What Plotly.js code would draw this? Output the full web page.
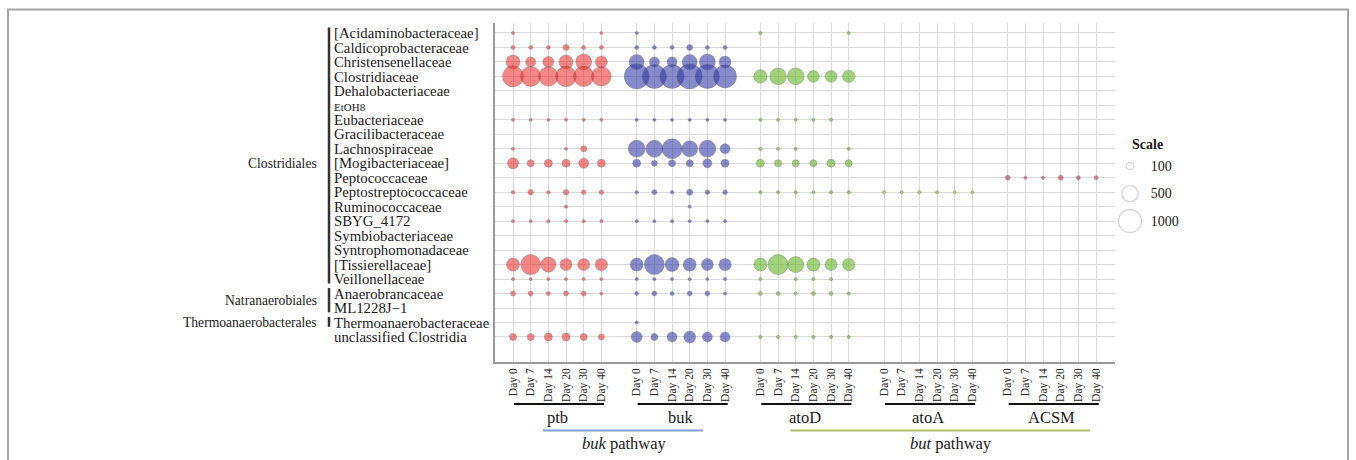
<!DOCTYPE html>
<html><head><meta charset="utf-8">
<script src="https://cdn.plot.ly/plotly-3.0.1.min.js"></script>
<style>html,body{margin:0;padding:0;background:#fff;}#chart{width:1356px;height:460px;}</style>
</head><body><div id="chart"></div>
<script>
// ---------------- data ----------------
const families = ['[Acidaminobacteraceae]','Caldicoprobacteraceae','Christensenellaceae','Clostridiaceae',
  'Dehalobacteriaceae','EtOH8','Eubacteriaceae','Gracilibacteraceae','Lachnospiraceae','[Mogibacteriaceae]',
  'Peptococcaceae','Peptostreptococcaceae','Ruminococcaceae','SBYG_4172','Symbiobacteriaceae',
  'Syntrophomonadaceae','[Tissierellaceae]','Veillonellaceae','Anaerobrancaceae','ML1228J\u22121',
  'Thermoanaerobacteraceae','unclassified Clostridia'];
const days = ['Day 0','Day 7','Day 14','Day 20','Day 30','Day 40'];
const genes = ['ptb','buk','atoD','atoA','ACSM'];
const orderNames = ['Clostridiales','Natranaerobiales','Thermoanaerobacterales'];
const orderFirst = ['[Acidaminobacteraceae]','Anaerobrancaceae','Thermoanaerobacteraceae'];
const orderLast  = ['Veillonellaceae','ML1228J\u22121','Thermoanaerobacteraceae'];
const pathways = ['buk','but'];
const scaleVals = [100, 500, 1000];

// abundance per family (rows) x day (cols)
const ptb = [
  [10,0,0,0,0,10],[30,30,30,68,30,30],[370,190,230,370,480,270],[834,760,720,800,780,720],
  [0,0,0,0,0,0],[0,0,0,0,0,0],[12,12,12,12,12,12],[0,0,0,0,0,0],
  [15,0,0,20,70,0],[229,93,121,121,189,121],[0,0,0,0,0,0],[25,55,25,55,40,40],
  [0,0,0,15,0,0],[8,8,8,8,8,8],[0,0,0,0,0,0],[0,0,0,0,0,0],
  [320,756,425,272,272,290],[10,10,10,10,10,10],[47,47,30,47,47,17],[0,0,0,0,0,0],
  [0,0,0,0,0,0],[93,93,121,121,93,68]];
const buk = [
  [10,0,0,0,0,0],[30,30,30,68,30,30],[425,190,190,425,480,270],[1181,1089,1089,1181,1089,1000],
  [0,0,0,0,0,0],[0,0,0,0,0,0],[12,12,12,12,12,12],[0,0,0,0,0,0],
  [546,546,756,484,546,189],[121,68,93,93,153,121],[0,0,0,0,0,0],[25,47,25,68,40,40],
  [0,0,0,15,0,0],[8,8,8,8,8,8],[0,0,0,0,0,0],[0,0,0,0,0,0],
  [320,756,370,320,272,290],[10,10,10,10,10,10],[30,47,30,47,47,17],[0,0,0,0,0,0],
  [8,0,0,0,0,0],[229,93,189,272,189,189]];
const atoD = [
  [8,0,0,0,0,8],[0,0,0,0,0,0],[0,0,0,0,0,0],[335,525,525,258,258,287],
  [0,0,0,0,0,0],[0,0,0,0,0,0],[10,10,10,10,10,0],[0,0,0,0,0,0],
  [10,10,10,0,0,10],[121,93,93,93,121,93],[0,0,0,0,0,0],[10,15,10,15,10,10],
  [0,0,0,0,0,0],[0,0,0,0,0,0],[0,0,0,0,0,0],[0,0,0,0,0,0],
  [320,756,484,320,272,287],[10,0,10,10,10,0],[30,30,17,30,30,17],[0,0,0,0,0,0],
  [0,0,0,0,0,0],[12,12,12,12,12,12]];
const atoA = [
  [0,0,0,0,0,0],[0,0,0,0,0,0],[0,0,0,0,0,0],[0,0,0,0,0,0],
  [0,0,0,0,0,0],[0,0,0,0,0,0],[0,0,0,0,0,0],[0,0,0,0,0,0],
  [0,0,0,0,0,0],[0,0,0,0,0,0],[0,0,0,0,0,0],[10,10,8,8,8,8],
  [0,0,0,0,0,0],[0,0,0,0,0,0],[0,0,0,0,0,0],[0,0,0,0,0,0],
  [0,0,0,0,0,0],[0,0,0,0,0,0],[0,0,0,0,0,0],[0,0,0,0,0,0],
  [0,0,0,0,0,0],[0,0,0,0,0,0]];
const ACSM = [
  [0,0,0,0,0,0],[0,0,0,0,0,0],[0,0,0,0,0,0],[0,0,0,0,0,0],
  [0,0,0,0,0,0],[0,0,0,0,0,0],[0,0,0,0,0,0],[0,0,0,0,0,0],
  [0,0,0,0,0,0],[0,0,0,0,0,0],[47,17,17,47,30,30],[0,0,0,0,0,0],
  [0,0,0,0,0,0],[0,0,0,0,0,0],[0,0,0,0,0,0],[0,0,0,0,0,0],
  [0,0,0,0,0,0],[0,0,0,0,0,0],[0,0,0,0,0,0],[0,0,0,0,0,0],
  [0,0,0,0,0,0],[0,0,0,0,0,0]];

// ---------------- styling / layout ----------------
const W = 1356, H = 460;
const PX = v => v / W, PY = v => 1 - v / H;
const SERIF = 'Liberation Serif, Times New Roman, serif';
const GAP = 7;                     // slot stride between gene panels
const sizeRef = 2 * 1000 / (23 * 23);
const geneData = {ptb, buk, atoD, atoA, ACSM};
const geneColor = {
  ptb: 'rgba(238,45,45,0.82)', buk: 'rgba(50,55,165,0.82)', atoD: 'rgba(100,180,35,0.85)',
  atoA: 'rgba(165,185,55,0.85)', ACSM: 'rgba(200,40,70,0.85)'};

const traces = [];
genes.forEach((g, gi) => {
  const xs = [], ys = [], ss = [], tx = [];
  geneData[g].forEach((row, ri) => row.forEach((v, di) => {
    if (v > 0) { xs.push(gi * GAP + di); ys.push(ri); ss.push(v); tx.push(families[ri] + '<br>' + g + ' ' + days[di] + ': ' + v); }
  }));
  traces.push({type: 'scatter', mode: 'markers', x: xs, y: ys, text: tx, hoverinfo: 'text',
    xaxis: 'x', yaxis: 'y', showlegend: false,
    marker: {size: ss, sizemode: 'area', sizeref: sizeRef, sizemin: 1.6, color: geneColor[g],
      line: {color: 'rgba(60,60,60,0.55)', width: 0.7}}});
});
// helper trace to carry the left-aligned family labels axis
traces.push({type: 'scatter', mode: 'markers', x: [0], y: [0], xaxis: 'x', yaxis: 'y2',
  marker: {opacity: 0}, hoverinfo: 'skip', showlegend: false});
// size scale legend
traces.push({type: 'scatter', mode: 'markers', x: scaleVals.map(() => 0), y: scaleVals.map(String),
  xaxis: 'x2', yaxis: 'y3', hoverinfo: 'skip', showlegend: false,
  marker: {size: scaleVals, sizemode: 'area', sizeref: sizeRef, color: 'rgba(255,255,255,0)',
    line: {color: '#c4c4c4', width: 1.3}}});

const tickvals = [], ticktext = [];
genes.forEach((g, gi) => days.forEach((d, di) => { tickvals.push(gi * GAP + di); ticktext.push(d); }));
const rows = families.map((f, i) => i);
const yRange = [22.73, -0.69];

const shapes = [];
const annotations = [];
// outer frame
shapes.push({type: 'path', xref: 'paper', yref: 'paper',
  path: `M${PX(8)},-0.1 L${PX(8)},${PY(9.5)} L${PX(1348)},${PY(9.5)} L${PX(1348)},-0.1`,
  line: {color: '#a6a6a6', width: 2}});
// gene panel underlines + labels
genes.forEach((g, gi) => {
  shapes.push({type: 'line', xref: 'x', yref: 'paper', x0: gi * GAP + 0.05, x1: gi * GAP + 5.15,
    y0: PY(404), y1: PY(404), line: {color: '#111', width: 2}});
  annotations.push({xref: 'x', yref: 'paper', x: gi * GAP + 2.5, y: PY(417), text: g, showarrow: false,
    xanchor: 'center', yanchor: 'middle', font: {family: SERIF, size: 16.5, color: '#1a1a1a'}});
});
// pathway lines + labels
const pathSpan = {buk: [1.7, 10.75, 6.3, '#7f9fd0'], but: [15.7, 32.65, 24.8, '#aebb66']};
pathways.forEach(p => {
  const s = pathSpan[p];
  shapes.push({type: 'line', xref: 'x', yref: 'paper', x0: s[0], x1: s[1], y0: PY(430.5), y1: PY(430.5),
    line: {color: s[3], width: 2}});
  annotations.push({xref: 'x', yref: 'paper', x: s[2], y: PY(443), text: '<i>' + p + '</i> pathway',
    showarrow: false, xanchor: 'center', yanchor: 'middle', font: {family: SERIF, size: 16.5, color: '#1a1a1a'}});
});
// order brackets + labels
orderNames.forEach((o, oi) => {
  const a = families.indexOf(orderFirst[oi]), b = families.indexOf(orderLast[oi]);
  shapes.push({type: 'line', xref: 'paper', yref: 'y', x0: PX(329), x1: PX(329), y0: a - 0.38, y1: b + 0.3,
    line: {color: '#333', width: 2.5}});
  annotations.push({xref: 'paper', yref: 'y', x: PX(319), y: (a + b) / 2 + (oi === 0 ? 0.5 : 0), text: o,
    showarrow: false, xanchor: 'right', yanchor: 'middle', font: {family: SERIF, size: 13.6, color: '#1a1a1a'}});
});
// scale legend title
annotations.push({xref: 'paper', yref: 'paper', x: PX(1147), y: PY(144), text: '<b>Scale</b>', showarrow: false,
  xanchor: 'center', yanchor: 'middle', font: {family: SERIF, size: 14, color: '#1a1a1a'}});

const ticktextFam = families.map(f => f === 'EtOH8' ? '<span style="font-size:11px">EtOH8</span>' : f);

const layout = {
  width: W, height: H, margin: {l: 0, r: 0, t: 0, b: 0},
  paper_bgcolor: '#fff', plot_bgcolor: '#fff', showlegend: false,
  xaxis: {domain: [PX(495), PX(1115)], range: [-1.02, 34.07], anchor: 'y', tickmode: 'array',
    tickvals: tickvals, ticktext: ticktext, tickangle: -90, ticks: '', showgrid: true, gridcolor: '#dadada',
    gridwidth: 1, showline: true, linecolor: '#9a9a9a', linewidth: 1.5, zeroline: false,
    tickfont: {family: SERIF, size: 11.5, color: '#222'}, fixedrange: true},
  yaxis: {domain: [PY(362), PY(23)], range: yRange, anchor: 'x', tickmode: 'array', tickvals: rows,
    showticklabels: false, ticks: '', showgrid: true, gridcolor: '#dadada', gridwidth: 1,
    showline: true, linecolor: '#9a9a9a', linewidth: 1.5, zeroline: false, fixedrange: true},
  yaxis2: {overlaying: 'y', anchor: 'free', position: PX(333), side: 'right', range: yRange,
    tickmode: 'array', tickvals: rows, ticktext: ticktextFam, showgrid: false, showline: false,
    zeroline: false, ticks: '', tickfont: {family: SERIF, size: 14.8, color: '#1a1a1a'}, fixedrange: true},
  xaxis2: {domain: [PX(1118), PX(1142)], range: [-1, 1], anchor: 'y3', visible: false, fixedrange: true},
  yaxis3: {domain: [PY(234.75), PY(152.25)], type: 'category', categoryorder: 'array',
    categoryarray: scaleVals.map(String), range: [2.5, -0.5], anchor: 'x2', side: 'right',
    showgrid: false, showline: false, zeroline: false, ticks: 'outside', ticklen: 5, tickcolor: 'rgba(0,0,0,0)',
    tickfont: {family: SERIF, size: 14, color: '#1a1a1a'}, fixedrange: true},
  shapes: shapes, annotations: annotations,
  font: {family: SERIF, color: '#1a1a1a'}
};
Plotly.newPlot('chart', traces, layout, {displayModeBar: false, responsive: false});
</script></body></html>
